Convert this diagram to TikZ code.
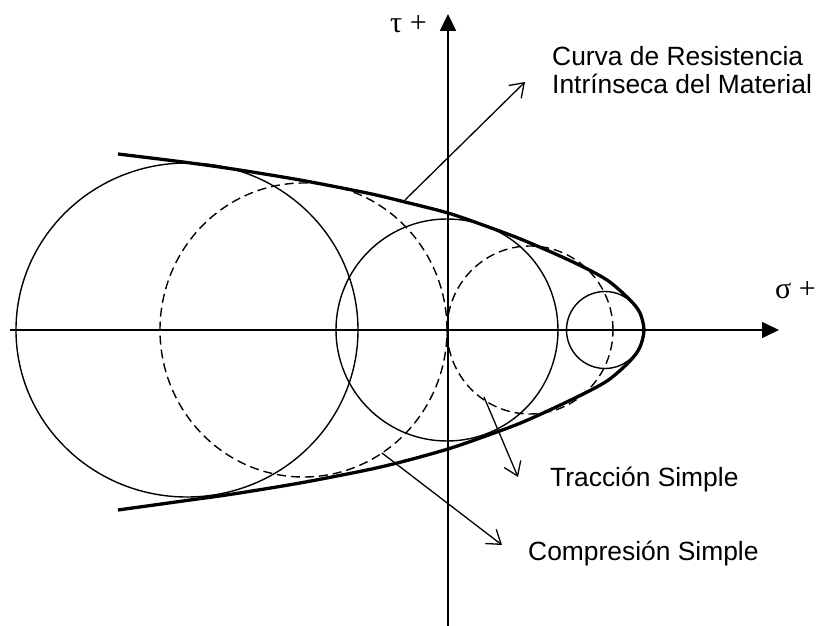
\documentclass[tikz,border=0pt]{standalone}
\usepackage{fontspec}
\setmainfont{Liberation Sans}
\newfontfamily\greekfont{Liberation Serif}
\usetikzlibrary{arrows.meta}

\begin{document}
\begin{tikzpicture}[x=1pt, y=1pt,
    axis/.style={-{Triangle[length=17pt, width=16pt]}},
    circ/.style={line width=1.4pt},
    dashcirc/.style={line width=1.4pt, dash pattern=on 9pt off 5pt},
    curve/.style={line width=3.3pt},
    pointer/.style={-{Straight Barb[length=13pt, width=18pt]}, line width=1.3pt},
    lbl/.style={inner sep=0pt, anchor=base west, font=\fontsize{26.4}{28.5}\selectfont},
    greek/.style={inner sep=0pt, anchor=base west, font=\greekfont\fontsize{30}{34}\selectfont}]
  \useasboundingbox (-448,-296) rectangle (369,330);

  \coordinate (west) at (-438,0);
  \coordinate (east) at (331,0);
  \coordinate (south) at (0,-296);
  \coordinate (north) at (0,316);
  \draw[axis, line width=1.5pt] (west) -- (east);
  \draw[axis, line width=2pt] (south) -- (north);

  \draw[circ] (-261,0) ellipse [x radius=171pt, y radius=167pt];
  \draw[circ] (-1,0) circle [radius=111pt];
  \draw[circ] (157,0) circle [radius=38.5pt];
  \draw[dashcirc] (-144.5,0) ellipse [x radius=143.5pt, y radius=147pt];
  \draw[dashcirc] (82,0) ellipse [x radius=83pt, y radius=84pt];

  \draw[curve] plot[smooth] coordinates {(-330,-180) (-265,-171) (-215,-164)
    (-148,-153) (-81,-140) (-43,-131) (0,-119) (35,-107) (75,-92) (125,-69)
    (159,-51) (182,-31) (192,-17) (196,0) (192,17) (182,30) (159,50) (125,68)
    (75,90) (35,105) (0,117) (-43,128) (-81,137) (-148,150) (-215,161)
    (-265,168) (-330,176)};

  \node[greek] (tau) at (-58,297) {τ +};
  \node[greek] (sigma) at (327,31) {σ +};
  \node[lbl, align=left] (curva) at (104,236) {Curva de Resistencia\\Intrínseca del Material};
  \node[lbl] (traccion) at (102,-157) {Tracción Simple};
  \node[lbl] (compresion) at (80,-230) {Compresión Simple};

  \coordinate (curvaPt) at (-43,130);
  \coordinate (curvaTip) at (77,248);
  \coordinate (tracPt) at (36,-67);
  \coordinate (tracTip) at (70,-147);
  \coordinate (compPt) at (-66,-123);
  \coordinate (compTip) at (54,-215);
  \draw[pointer] (curvaPt) -- (curvaTip);
  \draw[pointer] (tracPt) -- (tracTip);
  \draw[pointer] (compPt) -- (compTip);
\end{tikzpicture}
\end{document}
